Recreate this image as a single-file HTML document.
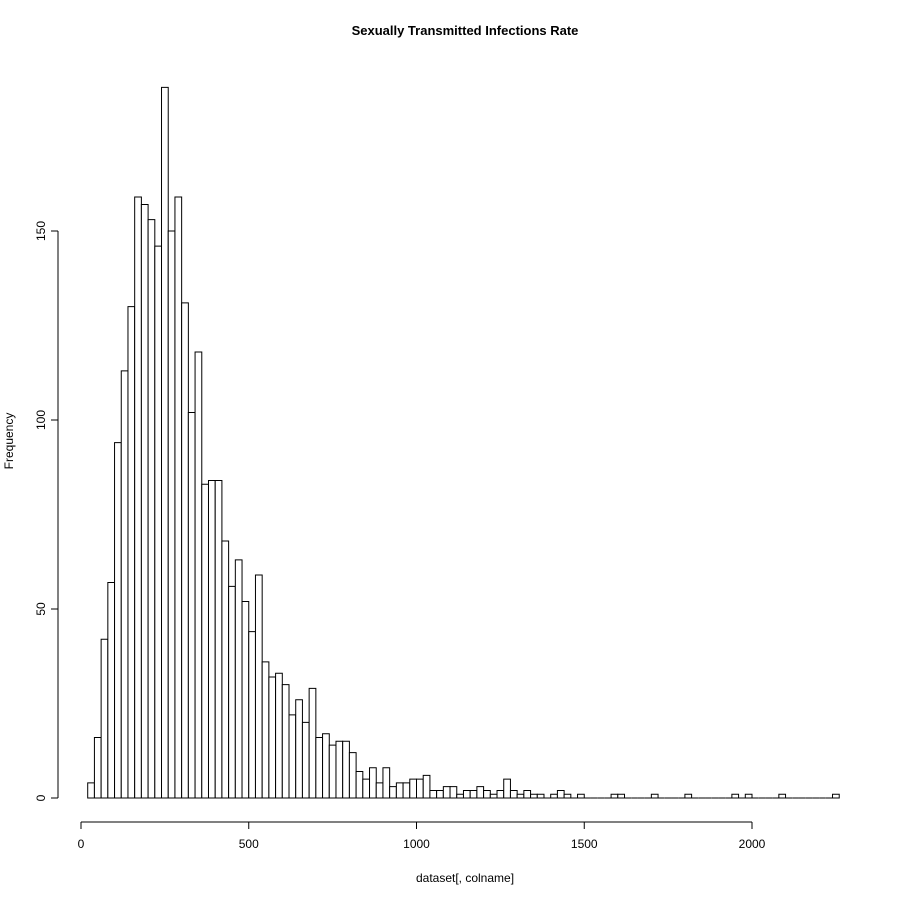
<!DOCTYPE html>
<html><head><meta charset="utf-8">
<style>
html,body{margin:0;padding:0;background:#fff;}
svg{display:block;font-family:"Liberation Sans",Arial,sans-serif;}
</style></head>
<body>
<svg id="chart" width="900" height="900" viewBox="0 0 900 900">
<rect width="900" height="900" fill="#fff"/>
<text x="465" y="35" text-anchor="middle" font-size="13" font-weight="bold">Sexually Transmitted Infections Rate</text>
<text x="465" y="882" text-anchor="middle" font-size="12">dataset[, colname]</text>
<text x="0" y="0" transform="translate(13,441) rotate(-90)" text-anchor="middle" font-size="12">Frequency</text>
<g id="bars"></g>
<g id="xaxis"></g>
<g id="yaxis"></g>
</svg>
<script>
const binStart = 20;
const binWidth = 20;
const counts = [4,16,42,57,94,113,130,159,157,153,146,188,150,159,131,102,118,83,84,84,
68,56,63,52,44,59,36,32,33,30,22,26,20,29,16,17,14,15,15,12,
7,5,8,4,8,3,4,4,5,5,6,2,2,3,3,1,2,2,3,2,
1,2,5,2,1,2,1,1,0,1,2,1,0,1,0,0,0,0,1,1,
0,0,0,0,1,0,0,0,0,1,0,0,0,0,0,0,1,0,1,0,
0,0,0,1,0,0,0,0,0,0,0,1];
const xTicks = [0,500,1000,1500,2000];
const yTicks = [0,50,100,150];

const NS = "http://www.w3.org/2000/svg";
function xs(v){ return 81 + v * (752-81)/2000; }
function ys(v){ return 798 - v * (798-231)/150; }
function mk(tag, attrs, parent){
  const e = document.createElementNS(NS, tag);
  for (const k in attrs) e.setAttribute(k, attrs[k]);
  parent.appendChild(e);
  return e;
}
const bars = document.getElementById('bars');
counts.forEach((c,i)=>{
  const x0 = xs(binStart + i*binWidth), x1 = xs(binStart + (i+1)*binWidth);
  const y0 = ys(0), y1 = ys(c);
  const d = c > 0 ? `M${x0},${y0}V${y1}H${x1}V${y0}Z` : `M${x0},${y0}H${x1}`;
  const p = mk('path',{d:d,fill:'#fff',stroke:'#000','stroke-width':1},bars);
  
  
});
const xa = document.getElementById('xaxis');
mk('line',{x1:xs(xTicks[0]),x2:xs(xTicks[xTicks.length-1]),y1:822,y2:822,stroke:'#000'},xa);
xTicks.forEach(t=>{
  mk('line',{x1:xs(t),x2:xs(t),y1:822,y2:829,stroke:'#000'},xa);
  const tx = mk('text',{x:xs(t),y:848,'text-anchor':'middle','font-size':12},xa);
  tx.textContent = t;
  
  
});
const ya = document.getElementById('yaxis');
mk('line',{x1:58,x2:58,y1:ys(yTicks[0]),y2:ys(yTicks[yTicks.length-1]),stroke:'#000'},ya);
yTicks.forEach(t=>{
  mk('line',{x1:51,x2:58,y1:ys(t),y2:ys(t),stroke:'#000'},ya);
  const tx = mk('text',{x:0,y:0,transform:`translate(45,${ys(t)}) rotate(-90)`,'text-anchor':'middle','font-size':12},ya);
  tx.textContent = t;
  
  
});
</script>
</body></html>
